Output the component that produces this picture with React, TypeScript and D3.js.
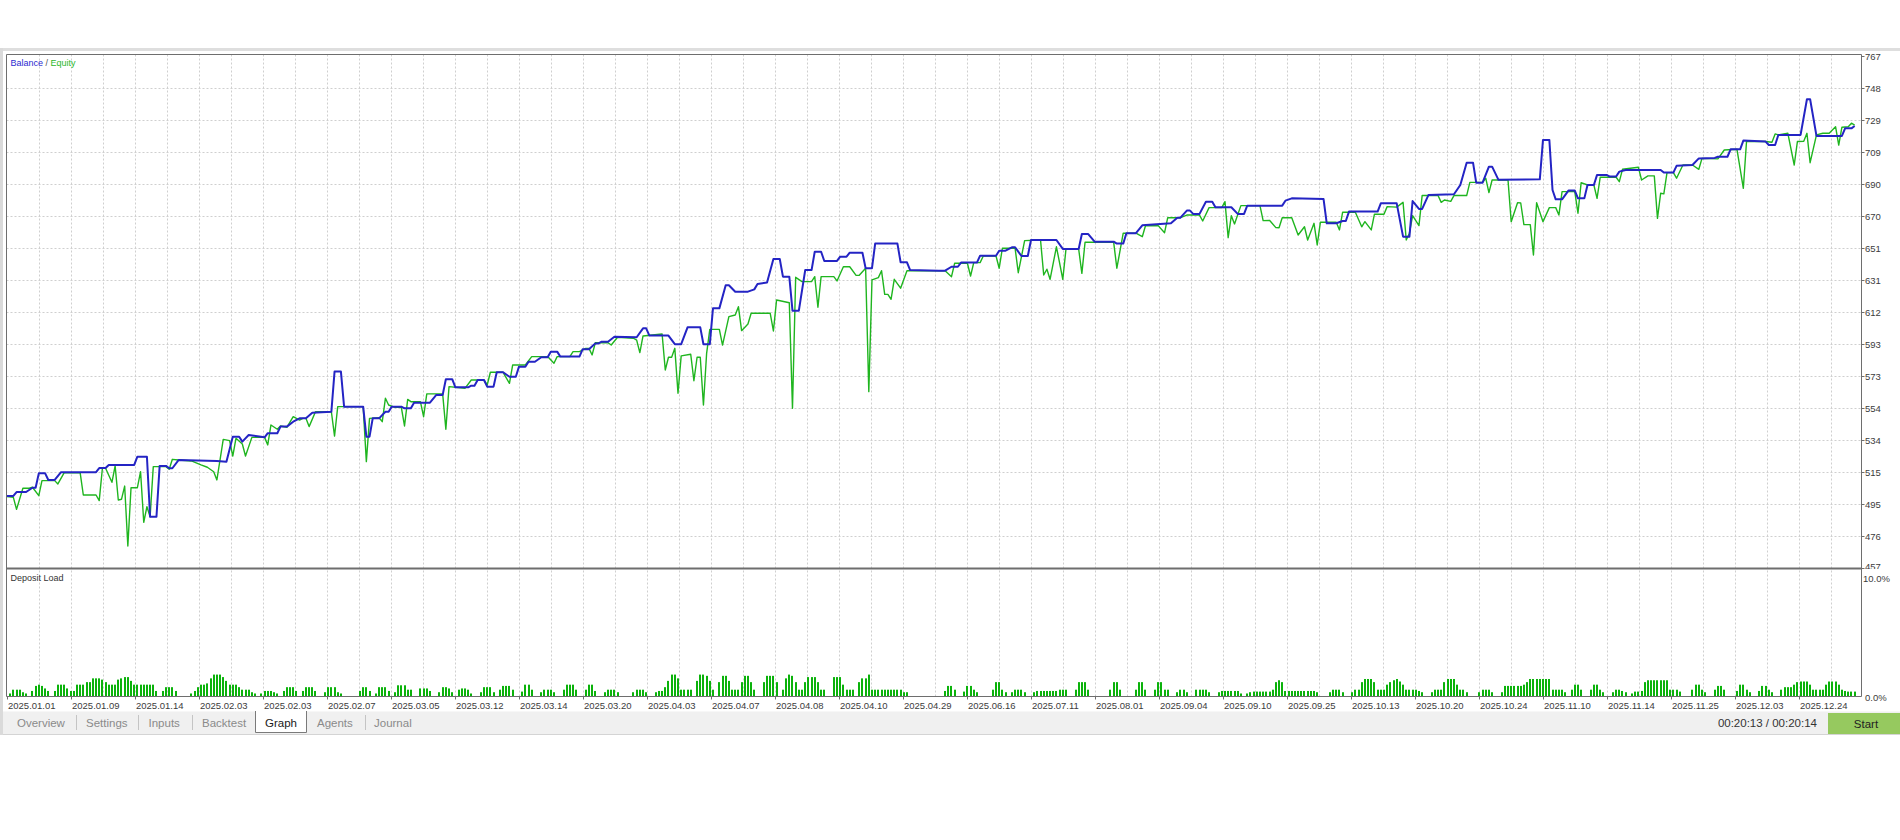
import React from 'react';
import * as d3 from 'd3';

// right axis labels, top to bottom
const yTickLabels = ['767', '748', '729', '709', '690', '670', '651', '631', '612', '593', '573', '554', '534', '515', '495', '476', '457'];

const dateLabels = [
  '2025.01.01', '2025.01.09', '2025.01.14', '2025.02.03', '2025.02.03', '2025.02.07', '2025.03.05', '2025.03.12',
  '2025.03.14', '2025.03.20', '2025.04.03', '2025.04.07', '2025.04.08', '2025.04.10', '2025.04.29', '2025.06.16',
  '2025.07.11', '2025.08.01', '2025.09.04', '2025.09.10', '2025.09.25', '2025.10.13', '2025.10.20', '2025.10.24',
  '2025.11.10', '2025.11.14', '2025.11.25', '2025.12.03', '2025.12.24',
];

// [deal #, balance]
const balancePts: [number, number][] = [
  [0, 500.6], [2, 500.6], [3, 503], [6, 503], [8, 505.6], [9, 505.6], [10, 514.3], [12, 514.3], [13, 510.3], [15, 510.3],
  [17, 515], [28, 515], [29, 517.5], [31, 517.5], [32, 519.4], [40, 519.4], [41, 524.4], [44, 524.4], [45, 488], [47, 488],
  [48, 518.8], [50, 518.8], [51, 517.4], [52, 517.4], [54, 522.4], [66, 521.8], [69, 521.4], [71, 536.5], [73, 536.5], [74, 533.5],
  [76, 537.5], [81, 536.1], [82, 538.6], [85, 538.6], [86, 542.6], [88, 542.6], [90, 545.6], [92, 547.6], [94, 547.6], [96, 551],
  [102, 551.6], [103, 575.9], [105, 575.9], [106, 554.7], [112, 554.7], [113, 536.5], [114, 536.5], [115, 547.6], [117, 547.6], [119, 551.6],
  [120, 551.6], [121, 554.7], [124, 554.7], [125, 553.7], [127, 553.7], [128, 557.1], [133, 557.1], [135, 561.8], [137, 561.8], [138, 571.3],
  [140, 571.3], [141, 566.4], [145, 566.4], [146, 567.4], [147, 567.4], [148, 570.8], [150, 570.8], [151, 566.8], [153, 566.8], [154, 575.5],
  [156, 575.5], [158, 572.8], [160, 572.8], [161, 578.9], [163, 578.9], [164, 581.9], [166, 581.9], [168, 584.6], [170, 584.6], [171, 588],
  [173, 588], [174, 585], [180, 585], [181, 589.4], [183, 589.4], [185, 593], [186, 593], [187, 594], [189, 594], [191, 597],
  [198, 596.7], [200, 602.1], [201, 602.1], [202, 597.7], [208, 597.7], [210, 592.5], [212, 592.5], [214, 602.7], [218, 602.7], [219, 592.5],
  [221, 592.5], [222, 614.2], [224, 614.2], [226, 628.2], [227, 628.2], [229, 624.3], [233, 624.3], [235, 625.7], [236, 629], [239, 629.8],
  [241, 644.1], [243, 644.1], [244, 633.4], [246, 633.4], [247, 612.8], [249, 612.8], [251, 637.4], [253, 637.4], [254, 648.5], [256, 648.5],
  [257, 642.9], [261, 642.9], [262, 645.5], [264, 645.5], [265, 647.9], [269, 647.9], [270, 638.5], [272, 638.5], [273, 653.4], [280, 653.4],
  [281, 642.1], [283, 642.1], [284, 637.4], [293, 637], [295, 637], [297, 639.4], [299, 639.4], [300, 641.9], [305, 641.9], [306, 646.1],
  [311, 646.1], [312, 649.1], [314, 649.1], [316, 651.2], [317, 651.2], [319, 645.9], [321, 645.9], [322, 655.6], [330, 655.6], [332, 650.2],
  [337, 650.2], [338, 659.2], [340, 659.2], [342, 654.6], [348, 654.6], [349, 653.4], [351, 653.4], [352, 659.7], [355, 659.7], [357, 664.5],
  [366, 665.7], [368, 669.1], [369, 669.1], [371, 673.4], [372, 673.4], [373, 671.4], [375, 671.4], [377, 678.8], [379, 678.8], [380, 675.4],
  [385, 675.4], [387, 671.4], [389, 671.4], [390, 676.4], [401, 676.4], [402, 679.4], [404, 680.8], [414, 680.4], [415, 665.7], [418, 665.7],
  [420, 667.1], [421, 667.1], [422, 672.8], [431, 672.8], [432, 677.8], [437, 677.8], [439, 657.6], [441, 657.6], [442, 679.2], [444, 674.4],
  [445, 674.4], [447, 682.9], [455, 683.3], [457, 688.9], [459, 702.4], [461, 702.4], [462, 690.3], [464, 690.3], [466, 700], [467, 700],
  [469, 692], [482, 692.3], [483, 716.2], [485, 716.2], [486, 685.9], [487, 680.2], [489, 680.2], [491, 685.5], [493, 685.5], [494, 680.8],
  [496, 680.8], [497, 688.9], [499, 688.9], [500, 695], [503, 695], [504, 694], [506, 694], [507, 697], [509, 698], [520, 698],
  [521, 696.4], [524, 696.4], [525, 700.5], [530, 701], [532, 705], [537, 705.3], [538, 706], [541, 706], [542, 710.5], [545, 710.5],
  [546, 715.8], [553, 715.2], [554, 713.1], [556, 713.1], [557, 719.2], [564, 719.2], [566, 740.8], [567, 740.8], [569, 718.6], [577, 718.6],
  [578, 723.2], [580, 723.2], [581, 724.6],
];

// [deal #, equity]
const equityPts: [number, number][] = [
  [0, 500.2], [2, 499.8], [3, 492.5], [5, 505.3], [7, 505.3], [8, 505.9], [10, 500.8], [11, 509.9], [15, 509.9], [16, 507.9],
  [18, 514.7], [23, 514.7], [24, 501.2], [28, 501.2], [29, 497.8], [30, 517.4], [31, 517.4], [33, 508.9], [34, 518.8], [35, 498.2],
  [36, 498.6], [37, 506.6], [38, 470.3], [39, 505.6], [41, 505.6], [42, 515.3], [43, 484.7], [44, 494.1], [45, 488], [46, 518.4],
  [50, 518.4], [51, 516.8], [52, 522.8], [54, 522.4], [58, 521.8], [61, 519.4], [63, 518], [65, 515.3], [66, 510.3], [68, 534.9],
  [70, 534.1], [71, 524.8], [72, 535.5], [74, 532.1], [75, 524.8], [77, 536.1], [81, 536.1], [82, 531.5], [83, 543.6], [85, 541],
  [86, 543], [88, 542.2], [90, 548.6], [92, 546.6], [93, 547.6], [94, 547.6], [95, 542.6], [97, 551.6], [102, 551.6], [103, 536.9],
  [104, 554.7], [112, 554.7], [113, 521.4], [114, 547.6], [117, 548], [118, 545.6], [119, 559.8], [120, 555.7], [122, 554.3], [124, 554.3],
  [125, 543], [126, 559.1], [127, 557.7], [130, 557.7], [131, 548.6], [132, 562.4], [137, 562.4], [138, 541], [139, 566.8], [144, 565.8],
  [146, 570.8], [150, 570.8], [151, 567.8], [152, 575.5], [156, 575.5], [158, 568.8], [159, 579.9], [163, 579.9], [165, 585], [170, 585],
  [172, 581], [173, 585], [177, 585], [178, 588], [180, 588], [182, 590], [183, 590], [184, 586], [185, 593.4], [189, 593.4],
  [190, 592], [192, 596.7], [197, 596.1], [198, 595], [199, 587.4], [200, 597.5], [206, 598.7], [207, 576.9], [208, 584.6], [209, 584.6],
  [210, 590], [211, 562.8], [212, 585.4], [215, 586.4], [216, 570.4], [217, 584.6], [218, 584.6], [219, 555.7], [220, 587], [221, 601.5],
  [224, 601.5], [225, 592], [227, 609.2], [229, 610.2], [230, 615.2], [231, 600.7], [233, 604.7], [234, 611.2], [240, 611.2], [241, 600.5],
  [242, 619.3], [246, 617.6], [247, 553.7], [248, 633], [250, 630.4], [253, 630.4], [254, 633.4], [255, 614.9], [256, 633.4], [260, 633.4],
  [261, 630.8], [263, 639.4], [265, 639.4], [267, 634.2], [268, 634.2], [269, 636.4], [270, 638.5], [271, 563.8], [272, 631.4], [274, 632.8],
  [275, 637], [276, 622.7], [277, 622.7], [278, 619.7], [279, 631.8], [281, 626.4], [283, 637], [295, 637], [297, 633.4], [298, 641.5],
  [302, 641.5], [303, 633.8], [304, 641.9], [306, 641.9], [307, 645.9], [311, 645.9], [312, 638.5], [313, 650.6], [317, 650.6], [318, 635.8],
  [320, 655.2], [325, 655.6], [326, 634.4], [327, 637.9], [328, 631.8], [330, 651.5], [332, 631.8], [333, 650], [337, 650], [338, 635.4],
  [339, 654.2], [348, 654.2], [349, 638.5], [351, 659.7], [355, 659.7], [357, 657.6], [358, 664.2], [362, 664.3], [364, 660], [365, 669.1],
  [369, 669.1], [371, 670.7], [375, 670.7], [376, 667.1], [378, 675.2], [382, 675.2], [383, 678.8], [384, 657], [385, 670.3], [386, 665.3],
  [388, 676.4], [394, 676.4], [395, 667.3], [397, 667.5], [399, 663.1], [400, 663], [401, 669.1], [404, 669.1], [406, 658.6], [408, 663.6],
  [409, 655.6], [411, 665.7], [412, 652.6], [413, 666.3], [418, 666.3], [419, 661.7], [420, 672.4], [424, 672.4], [426, 663.6], [427, 666.7],
  [429, 661.7], [430, 671.2], [433, 671.2], [434, 675.8], [437, 675.5], [439, 678.4], [440, 655.6], [441, 659.7], [442, 670.3], [444, 664.3],
  [445, 682.5], [450, 682.5], [451, 678.4], [452, 679.8], [454, 679], [455, 682.5], [459, 682.5], [460, 690.5], [464, 690.5], [465, 693],
  [466, 684.3], [467, 691.9], [472, 691.9], [473, 666.7], [475, 678.2], [476, 678], [477, 664.9], [479, 664.9], [480, 646.5], [481, 678.2],
  [483, 666.7], [485, 675.2], [487, 675.2], [488, 670.7], [489, 684.9], [493, 684.9], [494, 671.8], [495, 690.3], [497, 688.9], [499, 688.9],
  [500, 680.8], [501, 693.6], [506, 693.6], [507, 690.9], [508, 698.4], [513, 699.6], [514, 691.9], [516, 694.4], [518, 694.4], [519, 668.7],
  [520, 683.9], [521, 683.5], [522, 696.4], [524, 696.4], [525, 693], [527, 701], [530, 701], [532, 698.4], [533, 705], [538, 704.7],
  [540, 710.1], [544, 710.5], [546, 686.9], [547, 715.2], [553, 715.2], [555, 714.8], [556, 719.8], [557, 719.2], [560, 720.2], [562, 701],
  [563, 715.2], [565, 715.4], [566, 720.2], [567, 702.4], [569, 719.2], [571, 720.2], [573, 720.2], [575, 724.2], [576, 713.1], [577, 723.9],
  [579, 724.2], [580, 726.3], [581, 725.2],
];

// deposit load %, [first deal #, consecutive values]
const loadGroups: [number, number[]][] = [
  [1, [0.2, 0.5, 0.5, 0.5, 0.3, 0.2]],
  [8, [0.4, 0.8, 0.9, 0.8, 0.6, 0.4]],
  [15, [0.4, 0.9, 0.9, 0.9, 0.6, 0.4]],
  [21, [0.4, 0.9, 0.9, 0.9, 1.1, 1.1, 1.4, 1.4, 1.4, 1.3, 1.1, 0.9, 0.9, 0.9, 1.3, 1.4, 1.5, 1.5, 1.2, 0.9, 0.9, 0.9, 0.9, 0.9, 0.9, 0.9, 0.4]],
  [49, [0.4, 0.7, 0.7, 0.7, 0.4]],
  [58, [0.2, 0.4, 0.7, 0.9, 0.9, 1.0, 1.4, 1.7, 1.7, 1.7, 1.5, 1.2, 0.9, 0.9, 0.9, 0.7, 0.5, 0.5, 0.5, 0.3, 0.2]],
  [80, [0.2, 0.4, 0.4, 0.4, 0.3, 0.2]],
  [87, [0.4, 0.7, 0.7, 0.7, 0.4]],
  [93, [0.4, 0.7, 0.7, 0.7, 0.4]],
  [100, [0.3, 0.7, 0.7, 0.7, 0.3, 0.2]],
  [111, [0.4, 0.7, 0.7, 0.4]],
  [116, [0.2, 0.7, 0.7, 0.7, 0.4]],
  [122, [0.3, 0.85, 0.85, 0.85, 0.5, 0.5]],
  [130, [0.6, 0.6, 0.6, 0.4]],
  [136, [0.3, 0.7, 0.7, 0.6, 0.3]],
  [142, [0.5, 0.6, 0.6, 0.5, 0.2]],
  [149, [0.3, 0.7, 0.7, 0.7, 0.3]],
  [155, [0.5, 0.8, 0.8, 0.8, 0.5]],
  [162, [0.35, 0.9, 0.9, 0.5]],
  [168, [0.3, 0.5, 0.5, 0.5, 0.3]],
  [175, [0.5, 0.9, 0.9, 0.9, 0.5]],
  [182, [0.5, 0.9, 0.9, 0.4]],
  [188, [0.3, 0.5, 0.5, 0.5, 0.3]],
  [197, [0.3, 0.5, 0.5, 0.5, 0.3]],
  [204, [0.3, 0.4, 0.4, 0.7, 1.2, 1.7, 1.7, 1.4, 0.5, 0.5, 0.5, 0.5]],
  [217, [1.2, 1.7, 1.7, 1.6, 1.2, 0.5]],
  [224, [1.1, 1.6, 1.6, 1.2, 0.5]],
  [229, [0.5, 0.5, 1.1, 1.6, 1.6, 1.1, 0.5]],
  [238, [1.1, 1.6, 1.6, 1.6, 1.1]],
  [244, [0.5]],
  [245, [1.4, 1.7, 1.6, 1.1, 0.5, 0.5, 1.1, 1.5, 1.5, 1.5, 1.1, 0.5, 0.5]],
  [260, [1.5, 1.5, 1.5, 0.9, 0.5, 0.5, 0.5]],
  [268, [1.1, 1.4, 1.4, 1.7, 0.5, 0.5, 0.5, 0.5, 0.5, 0.5, 0.5, 0.5, 0.5, 0.5, 0.3, 0.3]],
  [295, [0.4, 0.8, 0.8, 0.5]],
  [301, [0.35, 0.8, 0.8, 0.5, 0.3]],
  [310, [0.5, 1.1, 1.1, 0.5, 0.3]],
  [316, [0.3, 0.5, 0.5, 0.5, 0.3]],
  [323, [0.3, 0.4, 0.4, 0.4, 0.4, 0.4, 0.4, 0.4, 0.5, 0.5, 0.5]],
  [336, [0.5, 1.1, 1.1, 1.1, 0.5]],
  [347, [0.5, 1.1, 1.1, 0.5]],
  [355, [0.5, 1.1, 1.1, 0.5]],
  [361, [0.5, 1.1, 1.1, 0.5, 0.5]],
  [368, [0.3, 0.5, 0.5, 0.3]],
  [374, [0.5]],
  [375, [0.5, 0.5, 0.5, 0.3]],
  [381, [0.3, 0.4, 0.4, 0.4, 0.4, 0.4, 0.4, 0.2]],
  [390, [0.2, 0.3, 0.35, 0.35, 0.35, 0.35, 0.35, 0.35, 0.5, 1.1, 1.25, 1.1, 0.4, 0.4, 0.4, 0.4, 0.4, 0.4, 0.4, 0.4, 0.4, 0.4, 0.3]],
  [416, [0.3, 0.5, 0.5, 0.5, 0.3]],
  [423, [0.3, 0.5, 0.5, 1.1, 1.35, 1.35, 1.35, 1.1, 0.5, 0.5, 0.5, 0.9, 1.1, 1.25, 1.35, 1.15, 0.9, 0.5, 0.5, 0.5, 0.5, 0.4, 0.3]],
  [448, [0.3, 0.5, 0.5, 0.5, 1.1, 1.35, 1.35, 1.35, 0.9, 0.5, 0.5, 0.3]],
  [463, [0.3, 0.5, 0.5, 0.5, 0.3]],
  [470, [0.3, 0.8, 0.8, 0.8, 0.8, 0.8, 0.8, 0.9, 1.1, 1.35, 1.35, 1.35, 1.35, 1.35, 1.35, 1.35, 0.5, 0.5, 0.5, 0.5, 0.3]],
  [492, [0.5, 0.9, 0.9, 0.5]],
  [498, [0.5, 0.9, 0.9, 0.5, 0.3]],
  [505, [0.3, 0.5, 0.5, 0.4, 0.3]],
  [511, [0.2, 0.35, 0.35, 0.4, 1.1, 1.25, 1.25, 1.25, 1.25, 1.25, 1.25, 1.25, 0.5, 0.5, 0.5, 0.35]],
  [530, [0.5, 0.9, 0.9, 0.5, 0.3]],
  [537, [0.5, 0.8, 0.8, 0.5]],
  [544, [0.4, 0.9, 0.9, 0.5, 0.3]],
  [551, [0.4, 0.8, 0.8, 0.5, 0.3]],
  [558, [0.5, 0.7, 0.7, 0.7, 0.9, 1.1, 1.15, 1.15, 1.15, 0.9, 0.5, 0.5, 0.5, 0.5, 0.9, 1.15, 1.15, 1.15, 0.9, 0.5, 0.4]],
  [579, [0.35, 0.35, 0.35]],
];

const tabs = ['Overview', 'Settings', 'Inputs', 'Backtest', 'Graph', 'Agents', 'Journal'];

const FONT = '"Liberation Sans", Arial, sans-serif';
const AXIS_COLOR = '#3c3c3c';
const FRAME = '#6e6e6e';
const GRID = '#cfcfcf';

// layout of the MT5 tester window
const LEFT = 6.5;
const RIGHT = 1861.5;
const TOP = 54.5;
const SPLIT = 568;
const BOTTOM = 696.5;
const TAB_TEXT_X = [17, 86, 148.5, 202, 265, 317, 374];
const TAB_SEPS = [76.5, 138.5, 192.5, 365.5];

export default function App() {
  const x = d3.scaleLinear().domain([0, 583]).range([7, 1861]);
  const y = d3.scaleLinear().domain([457, 767]).range([SPLIT, 56]);
  const yLoad = d3.scaleLinear().domain([0, 10]).range([696, 570]);
  const xLabel = d3.scaleLinear().domain([0, 1]).range([7, 71]);

  const line = d3.line<[number, number]>().x(d => x(d[0])).y(d => y(d[1]));
  const loads = loadGroups.flatMap(([start, vals]) => vals.map((v, j) => ({ i: start + j, v })));

  const yMin = 457, yMax = 767;
  const yTicks = yTickLabels.map((t, k) => ({ t, y: y(yMax - k * (yMax - yMin) / (yTickLabels.length - 1)) }));

  const vGrid = d3.range(1, 58).map(k => Math.round(xLabel(k / 2)) + 0.5);
  const hGrid = yTicks.slice(1, -1).map(d => Math.round(d.y) + 0.5);

  return (
    <svg width={1900} height={840} style={{ position: 'absolute', left: 0, top: 0, display: 'block', background: '#fff' }}
      fontFamily={FONT}>
      <defs>
        <clipPath id="mainClip"><rect x={LEFT} y={TOP} width={RIGHT - LEFT} height={SPLIT - TOP} /></clipPath>
        <clipPath id="axisClip"><rect x={1862} y={40} width={40} height={SPLIT + 1 - 40} /></clipPath>
      </defs>

      {/* window chrome */}
      <rect x={0} y={48} width={1900} height={3} fill="#dedede" />
      <rect x={0} y={48} width={3} height={687} fill="#dadada" />

      {/* grid */}
      {hGrid.map(gy => (
        <line key={'h' + gy} x1={LEFT} x2={RIGHT} y1={gy} y2={gy} stroke={GRID} strokeDasharray="2,2" />
      ))}
      {vGrid.map(gx => (
        <line key={'v' + gx} x1={gx} x2={gx} y1={TOP} y2={BOTTOM} stroke={GRID} strokeDasharray="2,2" />
      ))}

      {/* balance / equity */}
      <g clipPath="url(#mainClip)">
        <path d={line(equityPts) || ''} fill="none" stroke="#1fb51f" strokeWidth={1.4} strokeLinejoin="round" />
        <path d={line(balancePts) || ''} fill="none" stroke="#2424c4" strokeWidth={2} strokeLinejoin="round" />
      </g>

      {/* deposit load bars */}
      {loads.map(d => (
        <rect key={'b' + d.i} x={Math.round(x(d.i)) - 1} y={yLoad(d.v)} width={2} height={696 - yLoad(d.v)} fill="#0bb20b" />
      ))}

      {/* frame */}
      <line x1={LEFT} x2={RIGHT} y1={TOP} y2={TOP} stroke={FRAME} />
      <line x1={LEFT} x2={LEFT} y1={TOP} y2={BOTTOM} stroke={FRAME} />
      <line x1={RIGHT} x2={RIGHT} y1={TOP} y2={BOTTOM} stroke={FRAME} />
      <line x1={LEFT} x2={RIGHT} y1={SPLIT + 0.5} y2={SPLIT + 0.5} stroke={FRAME} strokeWidth={2} />
      <line x1={LEFT} x2={RIGHT} y1={BOTTOM} y2={BOTTOM} stroke={FRAME} />

      {/* titles */}
      <text x={10.5} y={62.5} fontSize={9} dominantBaseline="central">
        <tspan fill="#2a2ad0">Balance</tspan>
        <tspan fill="#555"> / </tspan>
        <tspan fill="#2ab82a">Equity</tspan>
      </text>
      <text x={10.5} y={578} fontSize={9} fill="#333" dominantBaseline="central">Deposit Load</text>

      {/* right axis */}
      <g clipPath="url(#axisClip)">
        {yTicks.map((d, k) => (
          <g key={'yt' + d.t}>
            <line x1={RIGHT} x2={RIGHT + 3} y1={Math.round(d.y) + 0.5} y2={Math.round(d.y) + 0.5} stroke={FRAME} />
            <text x={1865} y={k === yTicks.length - 1 ? d.y - 1.5 : d.y} fontSize={9.5} fill={AXIS_COLOR}
              dominantBaseline="central">{d.t}</text>
          </g>
        ))}
      </g>
      <text x={1863} y={578.5} fontSize={9.5} fill={AXIS_COLOR} dominantBaseline="central">10.0%</text>
      <text x={1865} y={697} fontSize={9.5} fill={AXIS_COLOR} dominantBaseline="central">0.0%</text>

      {/* date axis */}
      {dateLabels.map((t, k) => (
        <g key={'dl' + k}>
          <line x1={Math.round(xLabel(k)) + 0.5} x2={Math.round(xLabel(k)) + 0.5} y1={BOTTOM} y2={BOTTOM + 3} stroke={FRAME} />
          <text x={xLabel(k) + 1} y={705} fontSize={9.5} fill={AXIS_COLOR} dominantBaseline="central">{t}</text>
        </g>
      ))}

      {/* tab bar */}
      <rect x={3} y={711.5} width={1897} height={23} fill="#f0f0f0" />
      <line x1={3} x2={1900} y1={734.5} y2={734.5} stroke="#d4d4d4" />
      <rect x={255.5} y={711} width={51} height={21.5} fill="#fff" />
      <path d="M255.5,711 V732.5 H306.5 V711" fill="none" stroke="#7a7a7a" />
      {TAB_SEPS.map(sx => (
        <line key={'sep' + sx} x1={sx} x2={sx} y1={715} y2={730} stroke="#c4c4c4" />
      ))}
      {tabs.map((t, k) => (
        <text key={'tab' + t} x={TAB_TEXT_X[k]} y={722.5} fontSize={11.5} dominantBaseline="central"
          fill={t === 'Graph' ? '#1a1a1a' : '#8a8a8a'}>{t}</text>
      ))}

      {/* status + start */}
      <text x={1817} y={723} fontSize={11.5} fill="#333" textAnchor="end" dominantBaseline="central">00:20:13 / 00:20:14</text>
      <rect x={1828} y={713} width={72} height={21} fill="#96c95f" />
      <text x={1866} y={723.5} fontSize={11.5} fill="#222" textAnchor="middle" dominantBaseline="central">Start</text>
    </svg>
  );
}
